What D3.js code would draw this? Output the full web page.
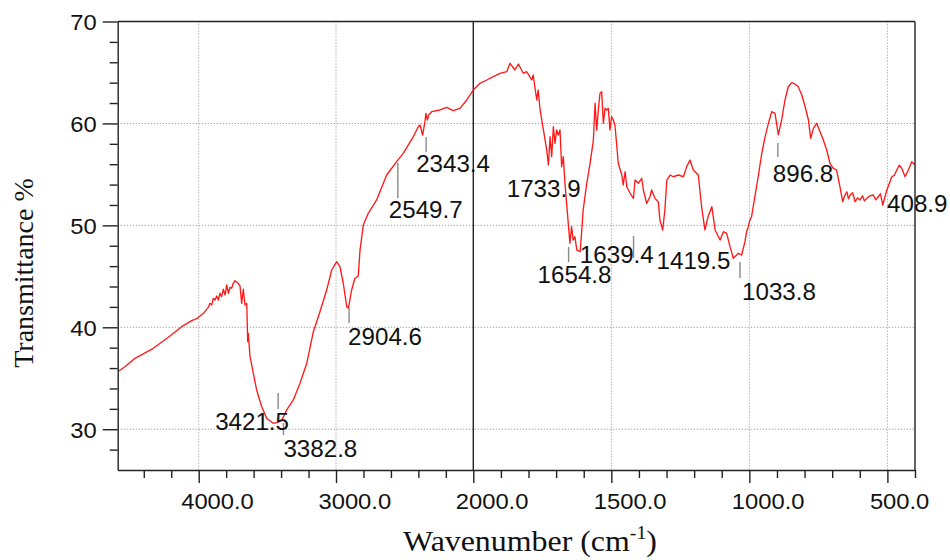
<!DOCTYPE html>
<html>
<head>
<meta charset="utf-8">
<script src="https://cdn.jsdelivr.net/npm/d3@7"></script>
<style>
  body { margin: 0; background: #ffffff; }
  svg { display: block; }
</style>
</head>
<body>
<svg id="chart" width="950" height="560"></svg>
<script>
// ---- FTIR spectrum: wavenumber (cm-1) vs transmittance (%) ----
const wavenumber = [
  4590, 4537, 4464, 4331, 4221, 4124, 4051, 4010, 3966, 3930, 3918, 3905, 3894, 3881, 3869, 3857,
  3845, 3833, 3821, 3808, 3796, 3784, 3772, 3760, 3748, 3736, 3712, 3699, 3687, 3675, 3663, 3650,
  3643, 3639, 3626, 3602, 3578, 3541, 3505, 3457, 3432, 3396, 3359, 3311, 3262, 3213, 3165, 3117,
  3068, 3031, 2995, 2971, 2947, 2922, 2910, 2886, 2862, 2838, 2825, 2801, 2765, 2704, 2631, 2558,
  2510, 2437, 2401, 2388, 2369, 2352, 2345, 2335, 2325, 2303, 2243, 2194, 2146, 2097, 2048, 2000,
  1976, 1951, 1940, 1903, 1879, 1867, 1849, 1837, 1819, 1807, 1788, 1783, 1777, 1770, 1765, 1758,
  1746, 1734, 1728, 1722, 1716, 1710, 1704, 1698, 1692, 1686, 1680, 1674, 1668, 1662, 1656, 1650,
  1644, 1638, 1632, 1625, 1613, 1607, 1602, 1589, 1577, 1565, 1559, 1553, 1547, 1541, 1535, 1529,
  1523, 1517, 1511, 1505, 1499, 1493, 1487, 1481, 1475, 1462, 1457, 1450, 1444, 1432, 1420, 1414,
  1402, 1390, 1384, 1372, 1360, 1354, 1342, 1330, 1324, 1314, 1306, 1299, 1287, 1276, 1257, 1239,
  1227, 1215, 1203, 1185, 1173, 1161, 1149, 1136, 1124, 1106, 1094, 1082, 1076, 1070, 1058, 1046,
  1040, 1028, 1016, 1010, 1004, 998, 992, 980, 968, 955, 943, 931, 919, 907, 895, 883,
  871, 859, 847, 835, 823, 810, 798, 786, 778, 768, 756, 744, 732, 720, 708, 696,
  684, 672, 662, 655, 647, 641, 635, 626, 617, 608, 599, 590, 583, 575, 563, 551,
  542, 533, 525, 517, 502, 484, 475, 466, 457, 448, 436, 424, 412, 400
];
const transmittance = [
  35.64, 36.13, 36.96, 37.94, 39.02, 40.06, 40.65, 40.88, 41.37, 41.96, 42.35, 42.19, 42.84, 42.68, 43.07, 42.68,
  43.34, 43.00, 43.73, 43.17, 44.15, 43.34, 43.92, 43.83, 44.32, 44.57, 44.32, 44.05, 42.35, 43.73, 42.19, 42.35,
  38.59, 39.41, 37.12, 35.49, 33.85, 32.21, 31.07, 30.58, 30.64, 30.84, 31.89, 32.87, 34.51, 36.47, 39.57, 41.53,
  43.66, 45.62, 46.44, 45.94, 44.32, 42.02, 41.86, 43.66, 44.81, 45.03, 47.58, 50.04, 51.18, 52.49, 54.94, 56.25,
  57.07, 58.70, 59.68, 59.85, 58.86, 60.17, 60.99, 60.34, 60.83, 61.15, 61.32, 61.58, 61.25, 61.48, 62.30, 63.28,
  63.94, 64.26, 64.43, 64.92, 65.08, 65.90, 65.24, 65.83, 64.92, 65.08, 64.26, 64.75, 63.60, 62.30, 63.28, 61.32,
  59.36, 57.39, 55.92, 58.70, 56.74, 59.68, 58.05, 59.36, 58.86, 59.36, 55.76, 56.74, 54.13, 52.16, 50.20, 48.24,
  49.87, 48.56, 48.89, 47.58, 47.42, 49.55, 51.51, 54.13, 56.09, 58.37, 61.98, 59.36, 61.32, 62.96, 63.11, 60.01,
  61.48, 61.32, 61.48, 59.36, 60.66, 60.34, 59.85, 58.05, 56.09, 54.94, 53.96, 55.26, 53.79, 53.15, 52.65, 54.45,
  54.13, 54.62, 53.47, 52.16, 52.81, 53.47, 52.65, 52.32, 50.53, 49.55, 51.51, 54.45, 54.94, 54.77, 54.94, 54.77,
  55.76, 56.41, 55.43, 54.94, 51.83, 49.55, 50.90, 51.83, 49.55, 48.56, 49.38, 49.22, 48.56, 47.91, 46.77, 47.09,
  47.26, 47.09, 48.40, 49.38, 49.87, 50.53, 50.85, 52.81, 54.77, 57.07, 58.70, 60.01, 61.15, 60.99, 58.87, 60.34,
  62.30, 63.60, 64.00, 63.87, 63.60, 62.79, 61.64, 60.34, 58.54, 59.52, 60.01, 59.19, 58.37, 57.39, 56.09, 55.60,
  55.43, 53.79, 52.32, 52.90, 53.30, 52.60, 52.98, 53.20, 52.32, 52.70, 52.49, 52.90, 52.40, 52.65, 52.90, 52.98,
  52.50, 52.81, 53.10, 52.00, 53.47, 54.77, 54.90, 55.43, 55.90, 55.60, 54.77, 55.43, 56.25, 55.92
];

// axis ticks
const xMajorTicks = [4000, 3000, 2000, 1500, 1000, 500];
const xTickLabels = ["4000.0", "3000.0", "2000.0", "1500.0", "1000.0", "500.0"];
const xMinorTicks = [4400, 4200, 3800, 3600, 3400, 3200, 2800, 2600, 2400, 2200,
                     1900, 1800, 1700, 1600, 1400, 1300, 1200, 1100, 900, 800, 700, 600, 400];
const yMajorTicks = [30, 40, 50, 60, 70];
const yMinorTicks = [28, 32, 34, 36, 38, 42, 44, 46, 48, 52, 54, 56, 58, 62, 64, 66, 68];

// annotated absorption bands
const peakWavenumbers = [3421.5, 3382.8, 2904.6, 2549.7, 2343.4, 1733.9, 1654.8, 1639.4, 1419.5, 1033.8, 896.8, 408.9];
const peakLabels = ["3421.5", "3382.8", "2904.6", "2549.7", "2343.4", "1733.9", "1654.8", "1639.4", "1419.5", "1033.8", "896.8", "408.9"];

// ---- layout ----
const L = 117.7, R = 915, T = 21.5, B = 470;
const svg = d3.select("#chart");

// split wavenumber axis: 4590-2000 compressed on the left, 2000-400 on the right
const x = d3.scaleLinear().domain([4590, 2000, 400]).range([L, 473.3, R]);
const y = d3.scaleLinear().domain([26, 70]).range([B, T]);

const sans = "'Liberation Sans', Arial, sans-serif";
const serif = "'Liberation Serif', 'Times New Roman', serif";
const widen = 1.08; // slightly wide lettering

// dotted grid
const grid = svg.append("g")
  .attr("stroke", "#9a9a9a")
  .attr("stroke-width", 1)
  .attr("stroke-dasharray", "1.2,1.8");
grid.selectAll("line.h")
  .data(yMajorTicks.filter(v => v < 70))
  .join("line")
  .attr("x1", L).attr("x2", R)
  .attr("y1", d => y(d)).attr("y2", d => y(d));
grid.selectAll("line.v")
  .data(xMajorTicks.filter(v => v !== 2000))
  .join("line")
  .attr("x1", d => x(d)).attr("x2", d => x(d))
  .attr("y1", T).attr("y2", B);

// solid divider where the wavenumber scale changes
svg.append("line")
  .attr("x1", x(2000)).attr("x2", x(2000))
  .attr("y1", T).attr("y2", B)
  .attr("stroke", "#222").attr("stroke-width", 1.4);

// spectrum
svg.append("clipPath").attr("id", "plot-clip")
  .append("rect").attr("x", L).attr("y", T).attr("width", R - L).attr("height", B - T);

const spectrum = wavenumber.map((w, i) => ({ w, t: transmittance[i] }));
svg.append("path")
  .datum(spectrum)
  .attr("clip-path", "url(#plot-clip)")
  .attr("fill", "none")
  .attr("stroke", "#ff1a1a")
  .attr("stroke-width", 1.35)
  .attr("stroke-linejoin", "round")
  .attr("d", d3.line().x(d => x(d.w)).y(d => y(d.t)));

// frame
const frame = svg.append("g").attr("stroke", "#222").attr("stroke-width", 1.4);
frame.append("line").attr("x1", L).attr("x2", R).attr("y1", T).attr("y2", T);
frame.append("line").attr("x1", R).attr("x2", R).attr("y1", T).attr("y2", B);

// bottom axis
const gx = svg.append("g").attr("transform", `translate(0,${B})`);
gx.append("g")
  .call(d3.axisBottom(x).tickValues(xMinorTicks).tickSize(8).tickSizeOuter(0).tickFormat(""))
  .call(g => g.select(".domain").remove());
const gxMajor = gx.append("g")
  .call(d3.axisBottom(x).tickValues(xMajorTicks).tickSize(13).tickSizeOuter(0)
        .tickFormat((d, i) => xTickLabels[i]));
gxMajor.selectAll("text")
  .attr("x", 0).attr("y", 0).attr("dy", null)
  .attr("transform", `translate(-18,39) scale(${widen},1)`)
  .attr("text-anchor", "start")
  .attr("font-family", sans).attr("font-size", 22).attr("fill", "#111");
gx.selectAll("line").attr("stroke", "#222").attr("stroke-width", 1.4);
gx.selectAll(".domain").attr("stroke", "#222").attr("stroke-width", 1.4);

// left axis
const gy = svg.append("g").attr("transform", `translate(${L},0)`);
gy.append("g")
  .call(d3.axisLeft(y).tickValues(yMinorTicks).tickSize(8).tickSizeOuter(0).tickFormat(""))
  .call(g => g.select(".domain").remove());
const gyMajor = gy.append("g")
  .call(d3.axisLeft(y).tickValues(yMajorTicks).tickSize(15).tickSizeOuter(0).tickFormat(d3.format("d")));
gyMajor.selectAll("text")
  .attr("x", 0).attr("dy", "0.36em")
  .attr("transform", `translate(-21,0) scale(${widen},1)`)
  .attr("font-family", sans).attr("font-size", 22).attr("fill", "#111");
gy.selectAll("line").attr("stroke", "#222").attr("stroke-width", 1.4);
gy.selectAll(".domain").attr("stroke", "#222").attr("stroke-width", 1.4);
svg.selectAll(".tick").attr("font-family", null).attr("font-size", null);

// peak annotations: leader line span (px) and label offset from the band position
const peakLayout = [
  { top: 393, bottom: 409, dx: -63, base: 430 },
  { top: 423, bottom: 435, dx: 0,   base: 457 },
  { top: 308, bottom: 323, dx: -1,  base: 345 },
  { top: 163, bottom: 198, dx: -9,  base: 218 },
  { top: 137, bottom: 152, dx: -10, base: 171.5 },
  { top: null, bottom: null, dx: -40, base: 196.5 },
  { top: 247, bottom: 262, dx: -31, base: 282.5 },
  { top: null, bottom: null, dx: 7,  base: 262.5 },
  { top: 236, bottom: 258, dx: 23,  base: 269 },
  { top: 262, bottom: 278, dx: 2,   base: 300 },
  { top: 143, bottom: 157, dx: -5,  base: 181.5 },
  { top: null, bottom: null, dx: -25.5, base: 211.5 }
];
const peaks = peakWavenumbers.map((w, i) => ({ w, label: peakLabels[i], ...peakLayout[i] }));

svg.append("g").selectAll("line")
  .data(peaks.filter(p => p.top !== null))
  .join("line")
  .attr("x1", d => x(d.w)).attr("x2", d => x(d.w))
  .attr("y1", d => d.top).attr("y2", d => d.bottom)
  .attr("stroke", "#8a8a8a").attr("stroke-width", 1.4);

svg.append("g").selectAll("text")
  .data(peaks)
  .join("text")
  .attr("transform", d => `translate(${x(d.w) + d.dx},${d.base}) scale(1.05,1)`)
  .attr("font-family", sans).attr("font-size", 23).attr("fill", "#111")
  .text(d => d.label);

// axis titles
svg.append("text")
  .attr("transform", "translate(33,273) rotate(-90)")
  .attr("text-anchor", "middle")
  .attr("font-family", serif).attr("font-size", 28).attr("fill", "#111")
  .text("Transmittance %");

const xt = svg.append("text")
  .attr("transform", "translate(530,551) scale(1.1,1)")
  .attr("text-anchor", "middle")
  .attr("font-family", serif).attr("font-size", 29).attr("fill", "#111");
xt.append("tspan").text("Wavenumber (cm");
xt.append("tspan").attr("dy", -12).attr("font-size", 18).text("-1");
xt.append("tspan").attr("dy", 12).text(")");
</script>
</body>
</html>
